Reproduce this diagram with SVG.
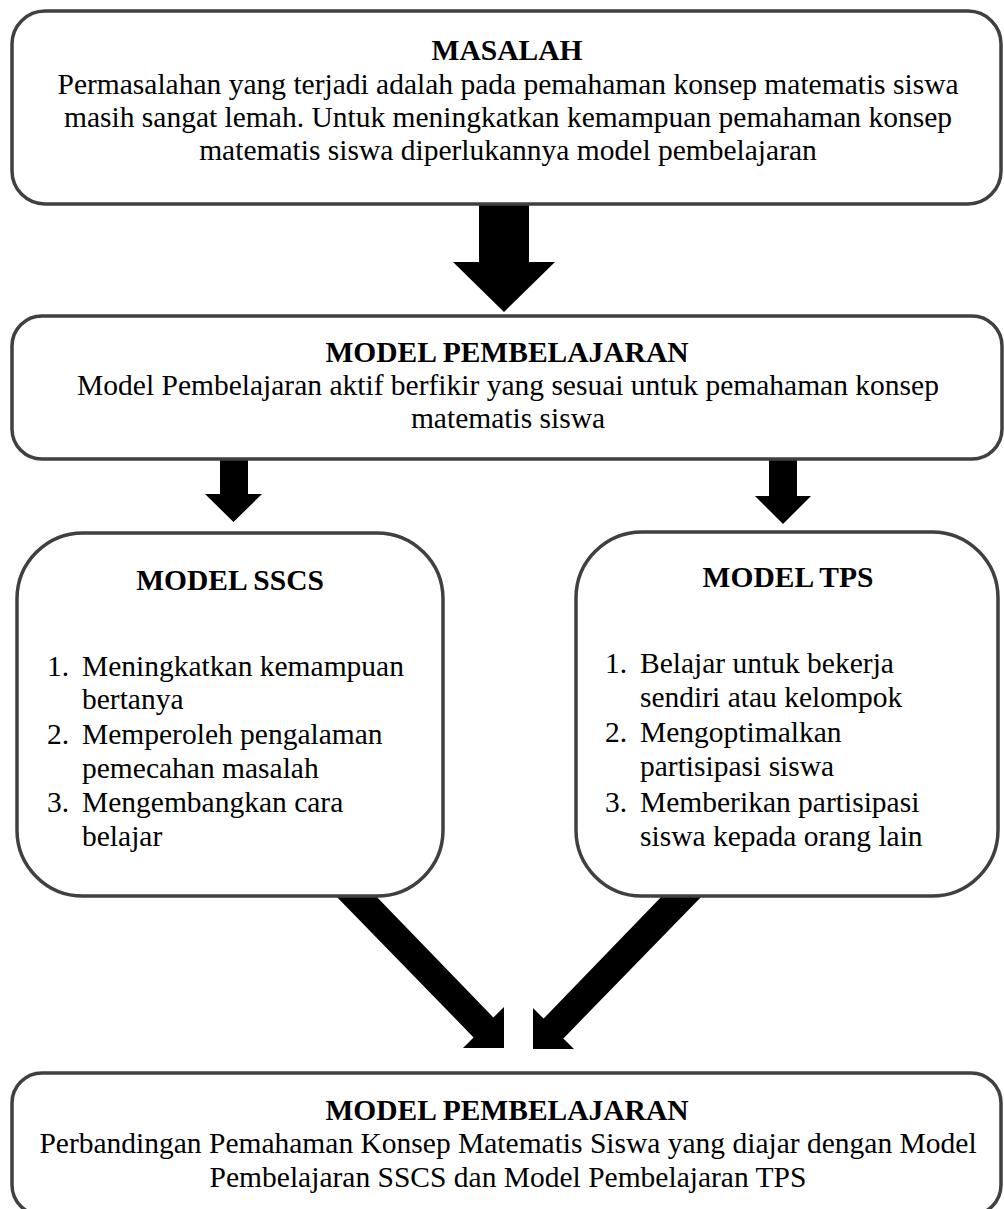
<svg xmlns="http://www.w3.org/2000/svg" width="1004" height="1209" viewBox="0 0 1004 1209">
<style>
.box{fill:#fff;stroke:#404040;stroke-width:3.5}
.arr{fill:#000}
text{font-family:"Liberation Serif","Times New Roman",serif;font-size:29.5px;fill:#000}
.t{font-weight:bold;text-anchor:middle}
.c{text-anchor:middle}
</style>
<rect width="1004" height="1209" fill="#fff"/>
<g id="connectors">
<polygon class="arr" points="479,200 529,200 529,262 555,262 504,312 453,262 479,262"/>
<polygon class="arr" points="220,455 248,455 248,494 262,494 233.5,522 205,494 220,494"/>
<polygon class="arr" points="769,455 797,455 797,496 811,496 783,524 755,496 769,496"/>
<polygon class="arr" points="333,893 373,893 493.4,1017.6 504,1007 504,1048 463,1048 473.6,1037.4"/>
<polygon class="arr" points="665,893 705,893 563.4,1038.4 574,1049 533,1049 533,1008 543.6,1018.6"/>
</g>
<g id="masalah">
<rect class="box" x="12" y="11" width="989" height="193" rx="33"/>
<text class="t" x="507" y="60">MASALAH</text>
<text class="c" x="508" y="94">Permasalahan yang terjadi adalah pada pemahaman konsep matematis siswa</text>
<text class="c" x="508" y="127">masih sangat lemah. Untuk meningkatkan kemampuan pemahaman konsep</text>
<text class="c" x="508" y="160">matematis siswa diperlukannya model pembelajaran</text>
</g>
<g id="model-pembelajaran-1">
<rect class="box" x="12" y="316" width="990" height="143" rx="30"/>
<text class="t" x="507" y="362">MODEL PEMBELAJARAN</text>
<text class="c" x="508" y="395">Model Pembelajaran aktif berfikir yang sesuai untuk pemahaman konsep</text>
<text class="c" x="508" y="428">matematis siswa</text>
</g>
<g id="model-sscs">
<rect class="box" x="17" y="533" width="426" height="363" rx="66"/>
<text class="t" x="230" y="590">MODEL SSCS</text>
<text x="47" y="676">1.</text><text x="82" y="676">Meningkatkan kemampuan</text>
<text x="82" y="709">bertanya</text>
<text x="47" y="744">2.</text><text x="82" y="744">Memperoleh pengalaman</text>
<text x="82" y="778">pemecahan masalah</text>
<text x="47" y="812">3.</text><text x="82" y="812">Mengembangkan cara</text>
<text x="82" y="846">belajar</text>
</g>
<g id="model-tps">
<rect class="box" x="576" y="532" width="422" height="364" rx="66"/>
<text class="t" x="788" y="587">MODEL TPS</text>
<text x="605" y="673">1.</text><text x="640" y="673">Belajar untuk bekerja</text>
<text x="640" y="707">sendiri atau kelompok</text>
<text x="605" y="742">2.</text><text x="640" y="742">Mengoptimalkan</text>
<text x="640" y="776">partisipasi siswa</text>
<text x="605" y="812">3.</text><text x="640" y="812">Memberikan partisipasi</text>
<text x="640" y="846">siswa kepada orang lain</text>
</g>
<g id="model-pembelajaran-2">
<rect class="box" x="12" y="1073" width="989" height="142" rx="30"/>
<text class="t" x="507" y="1120">MODEL PEMBELAJARAN</text>
<text class="c" x="508" y="1153">Perbandingan Pemahaman Konsep Matematis Siswa yang diajar dengan Model</text>
<text class="c" x="508" y="1187">Pembelajaran SSCS dan Model Pembelajaran TPS</text>
</g>
</svg>
